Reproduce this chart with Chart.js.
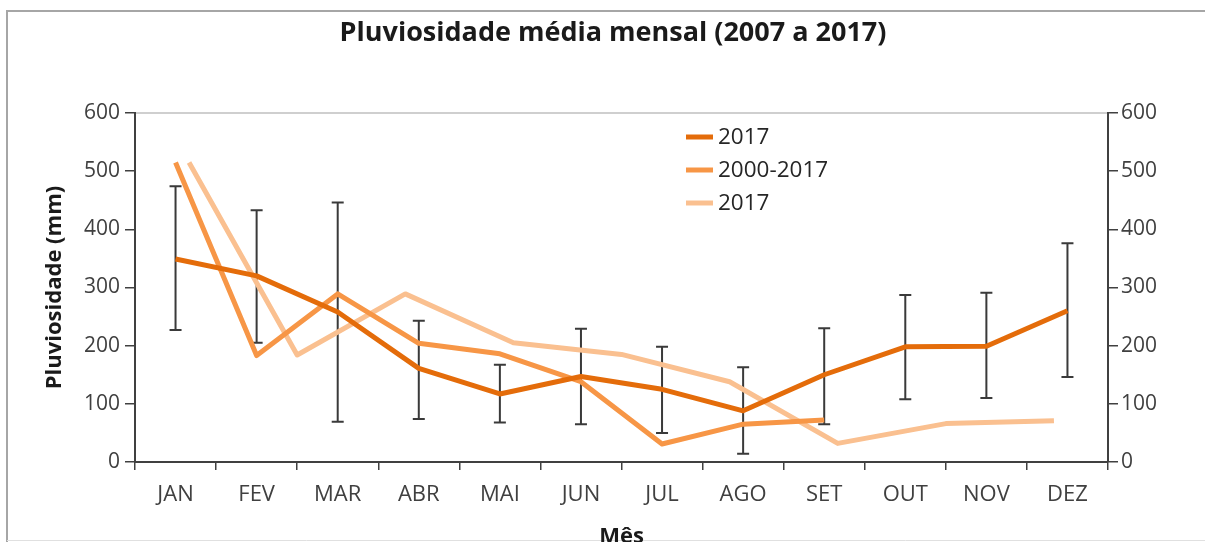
<!DOCTYPE html>
<html>
<head>
<meta charset="utf-8">
<script src="https://cdn.jsdelivr.net/npm/chart.js@4.4.1/dist/chart.umd.min.js"></script>
<style>
  html, body { margin: 0; padding: 0; background: #ffffff; }
  #wrap { width: 1205px; height: 542px; position: relative; }
</style>
</head>
<body>
<div id="wrap"><canvas id="c" width="1205" height="542"></canvas></div>
<script>
// ---- data ----
const months = ['JAN','FEV','MAR','ABR','MAI','JUN','JUL','AGO','SET','OUT','NOV','DEZ'];
const months9 = ['JAN','FEV','MAR','ABR','MAI','JUN','JUL','AGO','SET'];
const yTicks = [0, 100, 200, 300, 400, 500, 600];

const serie2017 = [349, 320, 258, 161, 117, 147, 125, 88, 150, 198, 199, 260];
const errLow2017 = [227, 205, 69, 74, 68, 65, 50, 14, 65, 108, 110, 146];
const errHigh2017 = [474, 433, 446, 243, 167, 229, 198, 163, 230, 287, 291, 376];
const serie2000_2017 = [515, 183, 289, 204, 186, 138, 31, 65, 72, null, null, null];
const serie2017b = [515, 184, 289, 205, 185, 138, 32, 66, 71];

const seriesNames = ['2017', '2000-2017', '2017'];
const seriesColors = ['#E46C0A', '#F79646', '#FAC090'];

const FONT = '"Open Sans", "DejaVu Sans", sans-serif';
const AXIS_COLOR = '#404040';
const TEXT_COLOR = '#404040';

// ---- plugins ----
const framePlugin = {
  id: 'frame',
  beforeDraw(chart) {
    const ctx = chart.ctx;
    ctx.save();
    ctx.fillStyle = '#ffffff';
    ctx.fillRect(0, 0, chart.width, chart.height);
    ctx.strokeStyle = '#a6a6a6';
    ctx.lineWidth = 2;
    ctx.beginPath();
    ctx.moveTo(7, chart.height);
    ctx.lineTo(7, 11);
    ctx.lineTo(chart.width, 11);
    ctx.stroke();
    ctx.strokeStyle = '#e0e0e0';
    ctx.lineWidth = 1;
    ctx.beginPath();
    ctx.moveTo(7, chart.height - 1.5);
    ctx.lineTo(chart.width, chart.height - 1.5);
    ctx.stroke();
    const a = chart.chartArea;
    ctx.strokeStyle = '#bfbfbf';
    ctx.lineWidth = 1.5;
    ctx.beginPath();
    ctx.moveTo(a.left, a.top);
    ctx.lineTo(a.right, a.top);
    ctx.stroke();
    ctx.restore();
  }
};

const errorBarPlugin = {
  id: 'errorBars',
  beforeDatasetsDraw(chart) {
    const ctx = chart.ctx;
    const xs = chart.scales.x, ys = chart.scales.y;
    ctx.save();
    ctx.strokeStyle = '#3a3a3a';
    ctx.lineWidth = 2;
    for (let i = 0; i < serie2017.length; i++) {
      const x = xs.getPixelForValue(i);
      const y1 = ys.getPixelForValue(errLow2017[i]);
      const y2 = ys.getPixelForValue(errHigh2017[i]);
      ctx.beginPath();
      ctx.moveTo(x, y1); ctx.lineTo(x, y2);
      ctx.moveTo(x - 6, y1); ctx.lineTo(x + 6, y1);
      ctx.moveTo(x - 6, y2); ctx.lineTo(x + 6, y2);
      ctx.stroke();
    }
    ctx.restore();
  }
};

const legendPlugin = {
  id: 'customLegend',
  afterDraw(chart) {
    const ctx = chart.ctx;
    ctx.save();
    ctx.font = '22.5px ' + FONT;
    ctx.textBaseline = 'middle';
    ctx.textAlign = 'left';
    chart.data.datasets.forEach((ds, i) => {
      const y = 137 + i * 33;
      ctx.strokeStyle = ds.borderColor;
      ctx.lineWidth = 5;
      ctx.beginPath();
      ctx.moveTo(686, y); ctx.lineTo(713, y);
      ctx.stroke();
      ctx.fillStyle = '#262626';
      ctx.fillText(ds.label, 718, y + 1);
    });
    ctx.restore();
  }
};

// ---- chart ----
new Chart(document.getElementById('c'), {
  type: 'line',
  data: {
    labels: months,
    datasets: [
      { label: seriesNames[0], data: serie2017, borderColor: seriesColors[0], backgroundColor: seriesColors[0],
        borderWidth: 5, pointRadius: 0, tension: 0, xAxisID: 'x', yAxisID: 'y', borderJoinStyle: 'round', order: 0 },
      { label: seriesNames[1], data: serie2000_2017, borderColor: seriesColors[1], backgroundColor: seriesColors[1],
        borderWidth: 5, pointRadius: 0, tension: 0, xAxisID: 'x', yAxisID: 'y', borderJoinStyle: 'round', spanGaps: false, order: 1 },
      { label: seriesNames[2], data: serie2017b, borderColor: seriesColors[2], backgroundColor: seriesColors[2],
        borderWidth: 5, pointRadius: 0, tension: 0, xAxisID: 'x2', yAxisID: 'y2', borderJoinStyle: 'round', order: 2 }
    ]
  },
  options: {
    responsive: false,
    animation: false,
    events: [],
    layout: { padding: { top: 0, left: 30, right: 9, bottom: 0 } },
    plugins: {
      legend: { display: false },
      tooltip: { enabled: false },
      title: {
        display: true,
        text: 'Pluviosidade média mensal (2007 a 2017)',
        color: '#1a1a1a',
        font: { family: FONT, size: 27, weight: 'bold', lineHeight: 1.2 },
        padding: { top: 16.8, bottom: 63.8 }
      }
    },
    scales: {
      x: {
        type: 'category',
        position: 'bottom',
        offset: true,
        afterFit(s) { s.height = 80; },
        grid: { display: true, drawOnChartArea: false, drawTicks: true, tickLength: 8, color: AXIS_COLOR, lineWidth: 1.5, offset: true },
        border: { display: true, color: AXIS_COLOR, width: 2 },
        ticks: { color: TEXT_COLOR, font: { family: FONT, size: 22 }, padding: 12, maxRotation: 0, autoSkip: false },
        title: { display: true, text: 'Mês', color: '#1a1a1a', font: { family: FONT, size: 22, weight: 'bold', lineHeight: 1.2 }, padding: { top: 0, bottom: -8 } }
      },
      x2: {
        type: 'category',
        labels: months9,
        position: 'bottom',
        offset: true,
        display: false
      },
      y: {
        position: 'left',
        min: 0, max: 600,
        afterFit(s) { s.width = 105; },
        afterBuildTicks(s) { s.ticks = yTicks.map(v => ({ value: v })); },
        grid: { display: true, drawOnChartArea: false, drawTicks: true, tickLength: 10, color: AXIS_COLOR, lineWidth: 1.5 },
        border: { display: true, color: AXIS_COLOR, width: 2 },
        ticks: { color: TEXT_COLOR, font: { family: FONT, size: 21 }, padding: 5 },
        title: { display: true, text: 'Pluviosidade (mm)', color: '#1a1a1a', font: { family: FONT, size: 22, weight: 'bold', lineHeight: 1.2 }, padding: { top: 12, bottom: 0 } }
      },
      y2: {
        position: 'right',
        min: 0, max: 600,
        afterFit(s) { s.width = 88; },
        afterBuildTicks(s) { s.ticks = yTicks.map(v => ({ value: v })); },
        grid: { display: true, drawOnChartArea: false, drawTicks: true, tickLength: 10, color: AXIS_COLOR, lineWidth: 1.5 },
        border: { display: true, color: AXIS_COLOR, width: 2 },
        ticks: { color: TEXT_COLOR, font: { family: FONT, size: 21 }, padding: 3 }
      }
    }
  },
  plugins: [framePlugin, errorBarPlugin, legendPlugin]
});
</script>
</body>
</html>
